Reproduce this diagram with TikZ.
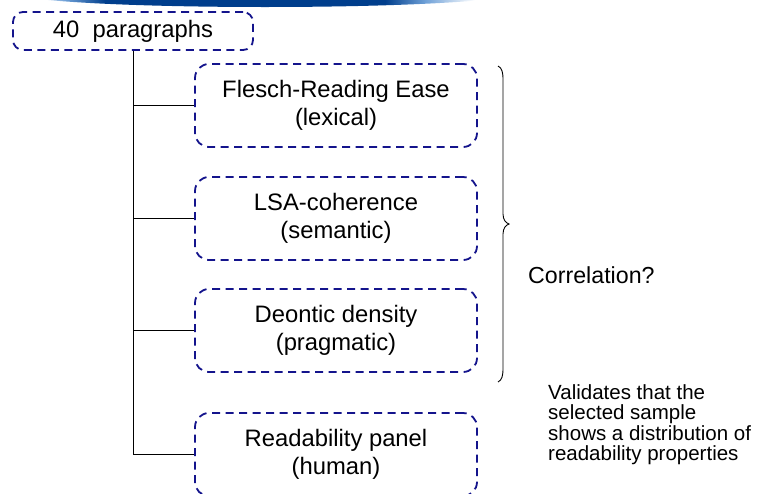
\documentclass[tikz,border=0pt]{standalone}
\usepackage{fontspec}
\setmainfont{Liberation Sans}
\definecolor{navybox}{RGB}{20,20,140}
\definecolor{banddark}{RGB}{0,62,140}
\definecolor{bandlight}{RGB}{110,160,215}
% header band: light ends, dark middle
\pgfdeclarehorizontalshading{bandshade}{100bp}{color(0bp)=(white); color(27bp)=(white); color(30bp)=(bandlight); color(34bp)=(banddark); color(62bp)=(banddark); color(66bp)=(bandlight); color(71bp)=(white); color(100bp)=(white)}

\begin{document}
\begin{tikzpicture}[x=1pt,y=-1pt,
  box/.style={draw=navybox, line width=1.8pt, dash pattern=on 8pt off 5.5pt,
    rounded corners=14pt, minimum width=282pt, minimum height=83pt,
    align=center, inner sep=0pt, font=\fontsize{23.8}{27.5}\selectfont},
  rootbox/.style={box, rounded corners=10pt, minimum width=240pt, minimum height=38pt},
  link/.style={draw=black, line width=0.9pt},
  brace/.style={draw=black, line width=0.9pt},
  label/.style={inner sep=0pt, font=\fontsize{23.2}{27}\selectfont},
  note/.style={inner sep=0pt, align=left, font=\fontsize{20.5}{20.6}\selectfont}]

\useasboundingbox (0,0) rectangle (759,493);

% header band
\begin{scope}
  \clip (0,0) rectangle (759,493);
  \shade[shading=bandshade] (265,-7) ellipse [x radius=250, y radius=14];
\end{scope}

% nodes
\node[rootbox] (root) at (133,31) {40\ \ paragraphs};
\node[box] (flesch) at (336,105.5) {Flesch-Reading Ease\\(lexical)};
\node[box] (lsa) at (336,218.5) {LSA-coherence\\(semantic)};
\node[box] (deontic) at (336,330.5) {Deontic density\\(pragmatic)};
\node[box] (panel) at (336,454.5) {Readability panel\\(human)};

% tree connectors
\path[link] (root.south) |- (flesch.west);
\path[link] (root.south) |- (lsa.west);
\path[link] (root.south) |- (deontic.west);
\path[link] (root.south) |- (panel.west);

% brace over the three measures
\coordinate (btop) at (498,66);
\coordinate (btip) at (509,224);
\coordinate (bbot) at (498,382);
\path[brace] (btop) .. controls (502,68) and (503,72) .. (503,80)
  -- (503,214) .. controls (503,220) and (506,223) .. (btip)
  .. controls (506,225) and (503,228) .. (503,234)
  -- (503,368) .. controls (503,376) and (502,380) .. (bbot);

\node[label, anchor=base west] (corr) at (528,283) {Correlation?};
\node[note, anchor=north west] (valid) at (548,384)
  {Validates that the\\selected sample\\shows a distribution of\\readability properties};
\end{tikzpicture}
\end{document}
